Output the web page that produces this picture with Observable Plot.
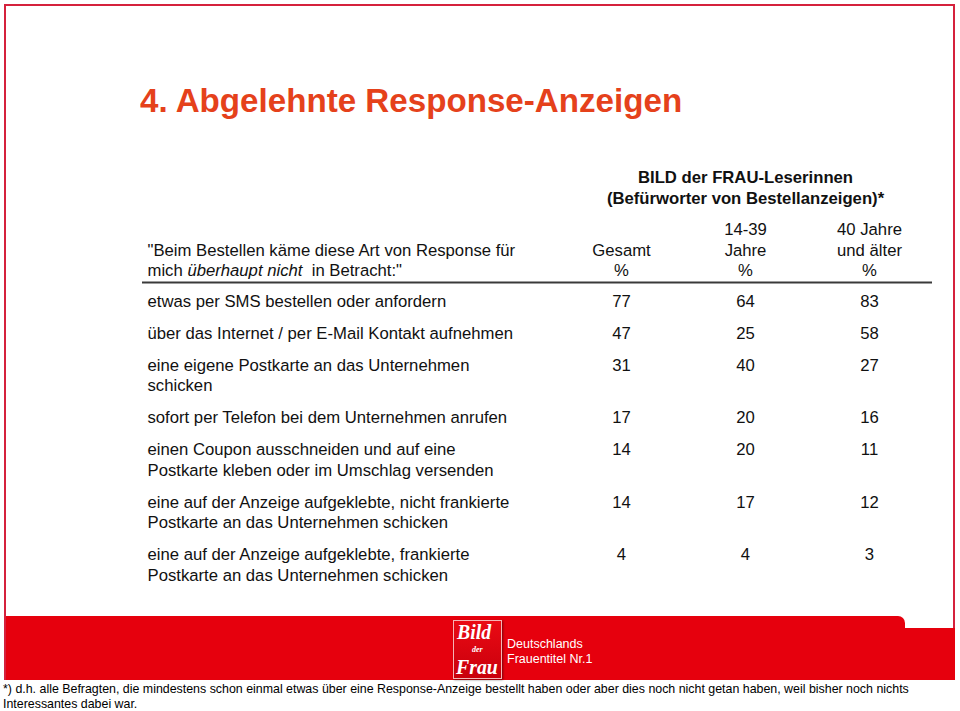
<!DOCTYPE html>
<html>
<head>
<meta charset="utf-8">
<script src="https://cdn.jsdelivr.net/npm/d3@7"></script>
<script src="https://cdn.jsdelivr.net/npm/@observablehq/plot@0.6"></script>
<style>
  body { margin: 0; background: #fff; font-family: "Liberation Sans", Arial, sans-serif; }
  #page { position: relative; width: 960px; height: 711px; overflow: hidden; background: #fff; }
  #frame { position: absolute; left: 4px; top: 4px; width: 947px; height: 672px; border: 2px solid #d5213c; }
  #title { position: absolute; left: 140px; top: 83px; font-size: 34px; line-height: 34px; font-weight: bold;
           color: #e5411b; white-space: nowrap; transform: scaleX(0.975); transform-origin: left center; }
  #chart { position: absolute; left: 0; top: 0; }
  #band { position: absolute; left: 6px; top: 616px; width: 899px; height: 64px; background: #e6000d; border-top-right-radius: 7px; }
  #band2 { position: absolute; left: 900px; top: 628px; width: 55px; height: 52px; background: #e6000d; }
  #logo { position: absolute; left: 453px; top: 620px; width: 47px; height: 57px;
          background: linear-gradient(180deg, #ea0a14, #c9000c); border: 1px solid #f5b5b5;
          box-shadow: 1px 1px 2px rgba(0,0,0,0.45); overflow: hidden; }
  .lg { position: absolute; color: #fff; font-family: "Liberation Serif", "DejaVu Serif", serif; font-weight: bold;
        font-style: italic; white-space: nowrap; transform-origin: left top; }
  #claim { position: absolute; left: 507px; top: 637px; color: #fff; font-size: 12.5px; line-height: 15px; }
  #foot { position: absolute; left: 3px; top: 682px; width: 940px; font-size: 12.4px; line-height: 15px; color: #000; }
</style>
</head>
<body>
<div id="page">
  <div id="frame"></div>
  <div id="title">4. Abgelehnte Response-Anzeigen</div>
  <div id="band"></div>
  <div id="band2"></div>
  <div id="logo">
    <div class="lg" style="left:3px;top:0px;font-size:22px;line-height:22px;transform:scaleX(0.9);">Bild</div>
    <div class="lg" style="left:18px;top:25px;font-size:8px;line-height:8px;">der</div>
    <div class="lg" style="left:2px;top:35px;font-size:22px;line-height:22px;transform:scaleX(0.9);">Frau</div>
  </div>
  <div id="claim">Deutschlands<br>Frauentitel Nr.1</div>
  <div id="chart"></div>
  <div id="foot">*) d.h. alle Befragten, die mindestens schon einmal etwas über eine Response-Anzeige bestellt haben oder aber dies noch nicht getan haben, weil bisher noch nichts Interessantes dabei war.</div>
</div>
<script>
// ---- data ----
const columns = ["Gesamt", "14-39 Jahre", "40 Jahre und älter"];
const columnHeaderLines = [["", "Gesamt", "%"], ["14-39", "Jahre", "%"], ["40 Jahre", "und älter", "%"]];
const groupHeader = ["BILD der FRAU-Leserinnen", "(Befürworter von Bestellanzeigen)*"];
const questionLines = ['"Beim Bestellen käme diese Art von Response für', 'mich überhaupt nicht in Betracht:"'];
const questionEmphasis = "überhaupt nicht";
const categories = [
  ["etwas per SMS bestellen oder anfordern"],
  ["über das Internet / per E-Mail Kontakt aufnehmen"],
  ["eine eigene Postkarte an das Unternehmen", "schicken"],
  ["sofort per Telefon bei dem Unternehmen anrufen"],
  ["einen Coupon ausschneiden und auf eine", "Postkarte kleben oder im Umschlag versenden"],
  ["eine auf der Anzeige aufgeklebte, nicht frankierte", "Postkarte an das Unternehmen schicken"],
  ["eine auf der Anzeige aufgeklebte, frankierte", "Postkarte an das Unternehmen schicken"]
];
const gesamt     = [77, 47, 31, 17, 14, 14, 4];
const jahre14_39 = [64, 25, 40, 20, 20, 17, 4];
const jahre40    = [83, 58, 27, 16, 11, 12, 3];

// ---- layout (in line units) ----
const LINE = 20.5, GAP = 11.5;
let pos = 0;
const rows = categories.map((lines, i) => {
  const r = {i, pos, lines};
  pos += lines.length + GAP / LINE;
  return r;
});
const series = [gesamt, jahre14_39, jahre40];
const labelLines = rows.flatMap(r => r.lines.map((t, k) => ({text: t, y: r.pos + k})));
const cells = rows.flatMap(r => series.map((s, c) => ({col: columns[c], y: r.pos, v: s[r.i]})));
const headerCells = columnHeaderLines.flatMap((ls, c) => ls.map((t, k) => ({col: columns[c], y: -3.5 + k, text: t})));
const questionData = questionLines.map((t, k) => ({text: t, y: -2.5 + k}));
const groupData = groupHeader.map((t, k) => ({text: t, y: -6.05 + k * 1.02, col: columns[1]}));

const font = '"Liberation Sans", Arial, sans-serif';
const FS = 16.7;
const chart = Plot.plot({
  width: 960, height: 611,
  marginLeft: 142, marginRight: 28, marginTop: 0, marginBottom: 0,
  style: {fontFamily: font, fontSize: FS + "px", color: "#111", background: "transparent", overflow: "visible"},
  x: {type: "point", domain: columns, range: [621, 869], padding: 0, axis: null},
  y: {type: "linear", domain: [0, 1], range: [301, 301 + LINE], axis: null},
  marks: [
    Plot.text(groupData, {x: "col", y: "y", text: "text", fontWeight: "bold", fontSize: FS, fill: "#111"}),
    Plot.text(headerCells, {x: "col", y: "y", text: "text", fontSize: FS, fill: "#111"}),
    Plot.text(questionData, {frameAnchor: "left", y: "y", text: "text", textAnchor: "start", dx: 5, fontSize: FS, fill: "#111"}),
    Plot.ruleY([-0.93], {stroke: "#3a3a3a", strokeWidth: 2}),
    Plot.text(labelLines, {frameAnchor: "left", y: "y", text: "text", textAnchor: "start", dx: 5, fontSize: FS, fill: "#111"}),
    Plot.text(cells, {x: "col", y: "y", text: d => String(d.v), fontSize: FS, fill: "#111"})
  ]
});
document.getElementById("chart").appendChild(chart);

// italic emphasis in the question line
d3.select(chart).selectAll("text")
  .filter(function () { return this.textContent === questionLines[1]; })
  .each(function () {
    const s = questionLines[1];
    const idx = s.indexOf(questionEmphasis);
    const el = d3.select(this);
    el.text(null);
    el.append("tspan").text(s.slice(0, idx));
    el.append("tspan").attr("font-style", "italic").text(questionEmphasis);
    el.append("tspan").attr("xml:space", "preserve").text("\u00a0" + s.slice(idx + questionEmphasis.length));
  });
</script>
</body>
</html>
